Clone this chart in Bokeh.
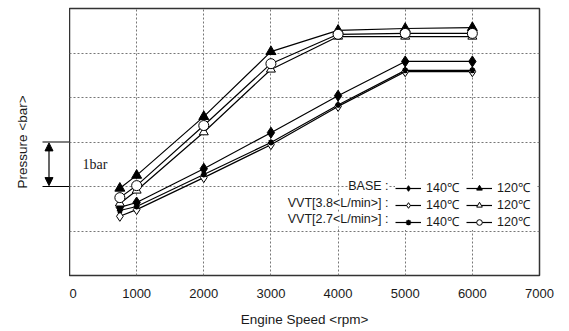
import math
from bokeh.plotting import figure
from bokeh.layouts import row
from bokeh.models import (ColumnDataSource, FixedTicker, Label, Arrow, NormalHead,
                          Legend, LegendItem, Range1d)
from bokeh.embed import file_html
from bokeh.resources import INLINE

# ---- data ----
rpm = [750, 1000, 2000, 3000, 4000, 5000, 6000]
base_140 = [1.53, 1.64, 2.40, 3.21, 4.04, 4.81, 4.81]
base_120 = [1.96, 2.25, 3.57, 5.03, 5.51, 5.55, 5.57]
vvt38_140 = [1.33, 1.48, 2.20, 2.94, 3.80, 4.58, 4.58]
vvt38_120 = [1.62, 1.91, 3.22, 4.63, 5.37, 5.37, 5.37]
vvt27_140 = [1.46, 1.55, 2.27, 2.99, 3.83, 4.61, 4.61]
vvt27_120 = [1.75, 2.02, 3.37, 4.76, 5.42, 5.44, 5.44]
x_ticks = [0, 1000, 2000, 3000, 4000, 5000, 6000, 7000]
y_grid = [1, 2, 3, 4, 5]
row_labels = ["BASE :", "VVT[3.8<L/min>] :", "VVT[2.7<L/min>] :"]
temp_labels = ["140\u2103", "120\u2103"]
scale_bar = [2, 3]   # the "1bar" reference interval

FONT = "Liberation Sans"
INK = "#1a1a1a"
TOP, BOTTOM, FH = 8, 56, 267

# ---- left strip: y title and 1 bar scale marker ----
lf = figure(width=69, height=331, output_backend="svg", toolbar_location=None,
            x_range=Range1d(0, 69), y_range=Range1d(0, 6),
            min_border_left=0, min_border_right=0, min_border_top=TOP,
            min_border_bottom=BOTTOM, frame_height=FH, frame_width=69)
lf.axis.visible = False
lf.grid.visible = False
lf.outline_line_color = None
lf.background_fill_color = "white"
lf.border_fill_color = "white"
lf.add_layout(Label(x=22, y=3, text="Pressure <bar>", angle=math.pi / 2,
                    text_align="center", text_baseline="middle",
                    text_font=FONT, text_font_size="13.5px", text_color=INK))
lf.add_layout(Arrow(x_start=48.5, y_start=scale_bar[0] + 0.02, x_end=48.5,
                    y_end=scale_bar[1] - 0.02,
                    start=NormalHead(size=8, fill_color="black", line_color="black"),
                    end=NormalHead(size=8, fill_color="black", line_color="black"),
                    line_color="black", line_width=1.2))
lf.segment(x0=[42, 42], y0=scale_bar, x1=[69, 69], y1=scale_bar,
           line_color="black", line_width=1.2)

# ---- main chart ----
p = figure(width=500, height=331, output_backend="svg", toolbar_location=None,
           x_range=Range1d(0, 7000), y_range=Range1d(0, 6),
           min_border_left=0, min_border_right=30, min_border_top=TOP,
           min_border_bottom=BOTTOM, frame_width=470, frame_height=FH)
p.background_fill_color = "white"
p.border_fill_color = "white"
p.outline_line_color = "#333333"
p.outline_line_width = 1.5

p.yaxis.visible = False
xa = p.xaxis[0]
xa.ticker = FixedTicker(ticks=x_ticks)
xa.axis_line_color = None
xa.major_tick_line_color = None
xa.minor_tick_line_color = None
xa.major_tick_out = 0
xa.major_tick_in = 0
xa.major_label_standoff = 13
xa.major_label_text_font = FONT
xa.major_label_text_font_size = "13px"
xa.major_label_text_color = INK
xa.axis_label = "Engine Speed <rpm>"
xa.axis_label_text_font = FONT
xa.axis_label_text_font_size = "13.5px"
xa.axis_label_text_font_style = "normal"
xa.axis_label_text_color = INK
xa.axis_label_standoff = 11

p.xgrid.ticker = FixedTicker(ticks=x_ticks[1:-1])
p.ygrid.ticker = FixedTicker(ticks=y_grid)
for g in (p.xgrid, p.ygrid):
    g.grid_line_color = "#777777"
    g.grid_line_dash = "2 2"
    g.grid_line_width = 1

series = [
    (base_140, "diamond", "black", 11, 1),
    (base_120, "triangle", "black", 10, 1),
    (vvt38_140, "diamond", "white", 10, 1),
    (vvt38_120, "triangle", "white", 9, 1),
    (vvt27_140, "asterisk", "black", 6, 1.5),
    (vvt27_120, "circle", "white", 10, 1),
]
renders = []
for ys, mk, fill, size, lw in series:
    src = ColumnDataSource(dict(x=rpm, y=ys))
    renders.append(p.line("x", "y", source=src, line_color="black", line_width=1.2))
sc_r = []
for ys, mk, fill, size, lw in series:
    src = ColumnDataSource(dict(x=rpm, y=ys))
    sc_r.append(p.scatter("x", "y", source=src, marker=mk, size=size, fill_color=fill,
                          line_color="black", line_width=lw))

items = [LegendItem(label=temp_labels[i % 2], renderers=[renders[i], sc_r[i]])
         for i in range(6)]
legend = Legend(items=items, orientation="horizontal", ncols=2,
                location=(326, 45), padding=2, margin=0, spacing=0,
                glyph_width=26, glyph_height=14, label_height=14, label_width=40,
                label_standoff=5,
                label_text_font=FONT, label_text_font_size="12.5px",
                label_text_color=INK, background_fill_color="white",
                background_fill_alpha=1.0, border_line_color=None)
p.add_layout(legend, "center")

row_y = [2.02, 1.64, 1.26]
for txt, yy in zip(row_labels, row_y):
    p.add_layout(Label(x=4751, y=yy, text=txt, text_align="right", text_baseline="middle",
                       text_font=FONT, text_font_size="12.5px", text_color=INK,
                       background_fill_color="white", background_fill_alpha=1.0))

p.add_layout(Label(x=194, y=2.5, text="1bar", text_align="left", text_baseline="middle",
                   text_font="Liberation Serif", text_font_size="14px",
                   text_color=INK))

layout = row(lf, p, spacing=0)
open("out.html", "w").write(file_html(layout, INLINE))
